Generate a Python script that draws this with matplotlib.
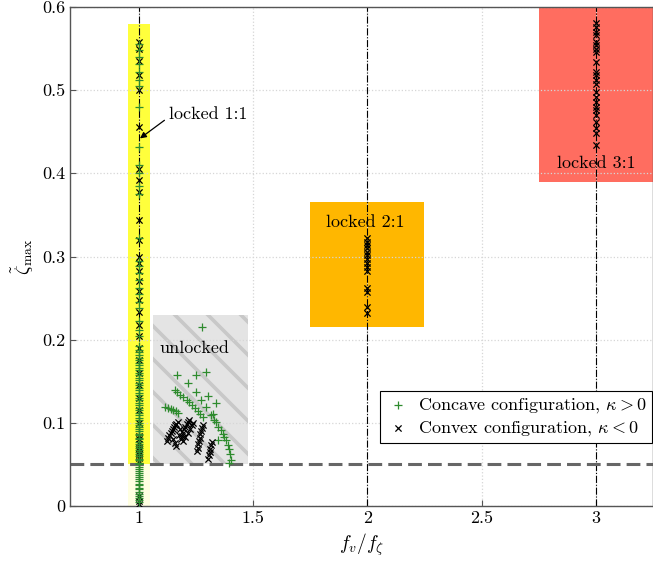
import numpy as np
import matplotlib
matplotlib.use("Agg")
import matplotlib.pyplot as plt
from matplotlib.patches import Rectangle

plt.rcParams.update({
    "font.family": "serif",
    "font.serif": ["cmr10", "DejaVu Serif"],
    "mathtext.fontset": "cm",
    "axes.unicode_minus": False,
    "axes.formatter.use_mathtext": True,
    "font.size": 13,
})

# ---- data -------------------------------------------------------------
# locked 1:1 (all at f_v/f_zeta = 1)
lock11_green_y = [0.555, 0.548, 0.540, 0.532, 0.522, 0.512, 0.505, 0.480, 0.432,
                  0.410, 0.400, 0.385, 0.375, 0.322, 0.295, 0.288, 0.280, 0.272,
                  0.262, 0.255, 0.245, 0.238, 0.222, 0.212, 0.204, 0.192, 0.188,
                  0.185, 0.181, 0.178, 0.175, 0.172, 0.169, 0.166, 0.163, 0.160,
                  0.157, 0.154, 0.151, 0.148, 0.145, 0.142, 0.139, 0.136, 0.133,
                  0.130, 0.127, 0.124, 0.121, 0.118, 0.115, 0.112, 0.109, 0.106,
                  0.103, 0.100, 0.097, 0.095, 0.092, 0.090, 0.087, 0.085, 0.082,
                  0.080, 0.077, 0.075, 0.072, 0.070, 0.067, 0.065, 0.062, 0.060,
                  0.057, 0.055, 0.052, 0.050, 0.047, 0.045, 0.042, 0.040, 0.037,
                  0.035, 0.032, 0.030, 0.027, 0.025, 0.022, 0.020, 0.017, 0.015,
                  0.012, 0.010, 0.007, 0.005]
lock11_black_y = [0.558, 0.550, 0.535, 0.518, 0.500, 0.456, 0.405, 0.392, 0.378,
                  0.344, 0.320, 0.300, 0.292, 0.283, 0.270, 0.258, 0.248, 0.233,
                  0.218, 0.205, 0.190, 0.175, 0.160, 0.145, 0.130, 0.115, 0.100,
                  0.084, 0.080, 0.075, 0.070, 0.066, 0.062, 0.058, 0.054, 0.012,
                  0.006, 0.002]
# locked 2:1 and 3:1 (convex only)
lock21_black_y = [0.322, 0.318, 0.314, 0.310, 0.306, 0.302, 0.297, 0.292, 0.287,
                  0.282, 0.262, 0.257, 0.239, 0.232]
lock31_black_y = [0.581, 0.576, 0.570, 0.566, 0.558, 0.554, 0.550, 0.546, 0.534,
                  0.522, 0.518, 0.512, 0.508, 0.498, 0.492, 0.486, 0.480, 0.476,
                  0.470, 0.462, 0.455, 0.448, 0.434]
# unlocked
unl_green_x = [1.279, 1.167, 1.253, 1.296, 1.217, 1.159, 1.253, 1.303, 1.274, 1.339,
               1.296, 1.325, 1.339,
               1.167, 1.180, 1.195, 1.210, 1.222, 1.235, 1.248, 1.260, 1.270, 1.281,
               1.116, 1.128, 1.140, 1.152, 1.162, 1.172,
               1.318, 1.332, 1.346, 1.361, 1.368, 1.375, 1.382, 1.389, 1.396, 1.401,
               1.404, 1.397, 1.346]
unl_green_y = [0.2155, 0.157, 0.157, 0.161, 0.148, 0.140, 0.137, 0.132, 0.127, 0.124,
               0.119, 0.111, 0.101,
               0.137, 0.134, 0.131, 0.128, 0.125, 0.122, 0.118, 0.114, 0.111, 0.107,
               0.119, 0.118, 0.117, 0.116, 0.114, 0.112,
               0.109, 0.103, 0.095, 0.091, 0.087, 0.083, 0.079, 0.073, 0.069, 0.063,
               0.055, 0.052, 0.079]
unl_black_x = [1.125, 1.130, 1.135, 1.140, 1.145, 1.150, 1.155, 1.160, 1.165, 1.172,
               1.150, 1.158, 1.165, 1.175, 1.180,
               1.185, 1.190, 1.195, 1.200, 1.205, 1.210, 1.215, 1.222, 1.195, 1.205,
               1.215, 1.225, 1.232, 1.238,
               1.255, 1.258, 1.261, 1.264, 1.267, 1.270, 1.273, 1.276, 1.280,
               1.305, 1.308, 1.311, 1.314, 1.317, 1.320]
unl_black_y = [0.078, 0.082, 0.085, 0.088, 0.090, 0.093, 0.095, 0.097, 0.099, 0.101,
               0.080, 0.076, 0.072, 0.085, 0.092,
               0.080, 0.084, 0.088, 0.092, 0.095, 0.098, 0.101, 0.103, 0.078, 0.083,
               0.088, 0.093, 0.097, 0.100,
               0.066, 0.070, 0.074, 0.078, 0.082, 0.086, 0.090, 0.094, 0.097,
               0.057, 0.061, 0.065, 0.069, 0.073, 0.077]

x_ticks = [1, 1.5, 2, 2.5, 3]
x_tick_labels = ["1", "1.5", "2", "2.5", "3"]
y_ticks = [0, 0.1, 0.2, 0.3, 0.4, 0.5, 0.6]
y_tick_labels = ["0", "0.1", "0.2", "0.3", "0.4", "0.5", "0.6"]
threshold = 0.05

# ---- figure -------------------------------------------------------------
GREEN = "#2e8b2e"
PLUS = dict(marker="+", s=40, color=GREEN, linewidths=0.9)
CROSS = dict(marker="x", s=20, color="black", linewidths=0.9)

fig = plt.figure(figsize=(6.53, 5.67), dpi=100)
ax = fig.add_axes([70 / 653, 61 / 567, 583 / 653, 499 / 567])
ax.set_xlim(0.7, 3.25)
ax.set_ylim(0, 0.6)

# shaded regions
ax.add_patch(Rectangle((0.955, threshold), 0.095, 0.58 - threshold,
                       facecolor="#ffff3c", edgecolor="none", zorder=1))
ax.add_patch(Rectangle((0.955, 0), 0.095, threshold,
                       facecolor="#ffff3c", alpha=0.15, edgecolor="none", zorder=1))
unl = Rectangle((1.065, threshold), 0.415, 0.23 - threshold,
                facecolor="#e4e4e4", edgecolor="none", zorder=1)
ax.add_patch(unl)
ax.add_patch(Rectangle((1.75, 0.215), 0.5, 0.15,
                       facecolor="#ffb700", edgecolor="none", zorder=1))
ax.add_patch(Rectangle((2.75, 0.39), 0.5, 0.21,
                       facecolor="#ff6d60", edgecolor="none", zorder=1))

# diagonal stripes inside the unlocked box (45 deg on screen)
px_x = 583 / 2.55
px_y = 499 / 0.6
slope = -px_x / px_y
step = 33 / px_x
for x0 in np.arange(0.32, 1.60, step):
    xs = np.array([x0, x0 + 1.1])
    ln, = ax.plot(xs, 0.262 + (xs - x0) * slope, color="#c8c8c8", lw=2.6,
                  solid_capstyle="butt", zorder=1.2)
    ln.set_clip_path(unl)

# reference lines
for xv in x_ticks[::2]:
    ax.axvline(xv, color="black", lw=0.8, ls="-.", zorder=1.6)
ax.axhline(threshold, color="#666666", lw=2.2, dashes=(4.5, 2), zorder=1.7)

# markers
ax.scatter(np.ones(len(lock11_black_y)), lock11_black_y, zorder=3, **CROSS)
ax.scatter(np.ones(len(lock11_green_y)), lock11_green_y, zorder=3, **PLUS)
ax.scatter(np.full(len(lock21_black_y), 2.0), lock21_black_y, zorder=3, **CROSS)
ax.scatter(np.full(len(lock31_black_y), 3.0), lock31_black_y, zorder=3, **CROSS)
ax.scatter(unl_green_x, unl_green_y, zorder=3, **PLUS)
ax.scatter(unl_black_x, unl_black_y, zorder=3, **CROSS)

# region labels
ax.text(1.245, 0.189, "unlocked", ha="center", va="center", zorder=4)
ax.text(1.99, 0.341, "locked 2:1", ha="center", va="center", zorder=4)
ax.text(3.0, 0.412, "locked 3:1", ha="center", va="center", zorder=4)
ax.annotate("locked 1:1", xy=(1.006, 0.442), xytext=(1.135, 0.471),
            ha="left", va="center", zorder=4,
            arrowprops=dict(arrowstyle="-|>", color="black", lw=0.9,
                            mutation_scale=9, shrinkA=2, shrinkB=0,
                            relpos=(0.0, 0.35)))

# legend handles
h1 = ax.scatter([], [], **PLUS)
h2 = ax.scatter([], [], **CROSS)
leg = ax.legend([h1, h2],
                [r"Concave configuration, $\kappa > 0$",
                 r"Convex configuration, $\kappa < 0$"],
                loc="lower right", bbox_to_anchor=(0.999, 0.126), fontsize=13,
                frameon=True, fancybox=False, framealpha=1, edgecolor="black",
                borderpad=0.3, handletextpad=0.5, labelspacing=0.2,
                handlelength=1.3, borderaxespad=0)
leg.get_frame().set_linewidth(0.8)
leg.set_zorder(5)

# axes styling
ax.set_xticks(x_ticks)
ax.set_xticklabels(x_tick_labels)
ax.set_yticks(y_ticks)
ax.set_yticklabels(y_tick_labels)
ax.tick_params(direction="in", length=4, color="#555555", labelsize=13)
for s in ax.spines.values():
    s.set_color("#555555")
    s.set_linewidth(1.0)
ax.set_axisbelow("line")
ax.grid(True, ls=":", color="#d6d6d6", lw=0.9)
ax.set_xlabel(r"$f_v/f_\zeta$", fontsize=14)
ax.set_ylabel(r"$\tilde{\zeta}_{\max}$", fontsize=14)

fig.savefig("out.png", dpi=100)
